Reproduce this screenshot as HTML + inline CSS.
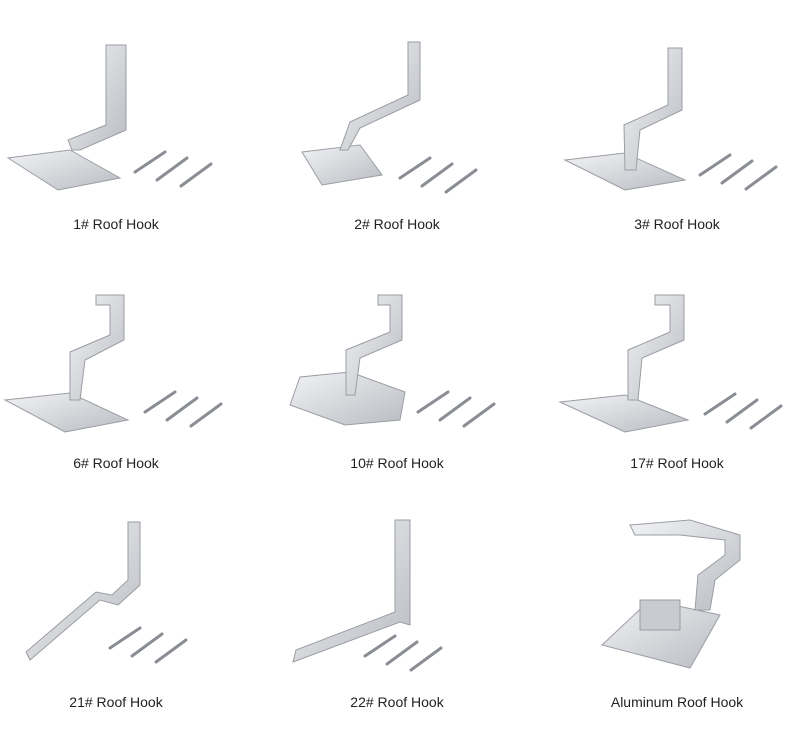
<!DOCTYPE html>
<html><head><meta charset="utf-8"><style>
body{margin:0;width:800px;height:750px;background:#fff;position:relative;overflow:hidden;font-family:"Liberation Sans",sans-serif}
.l{position:absolute;font-size:14px;color:#222;width:260px;text-align:center}
svg{position:absolute;left:0;top:0}
</style></head><body>
<svg width="800" height="750" viewBox="0 0 800 750">
<defs>
<linearGradient id="m" x1="0" y1="0" x2="1" y2="1"><stop offset="0" stop-color="#f2f3f5"/><stop offset="1" stop-color="#b9bcc2"/></linearGradient>
<g id="screws" stroke="#8a8d93" stroke-width="3" stroke-linecap="round"><line x1="0" y1="20" x2="30" y2="0"/><line x1="22" y1="28" x2="52" y2="6"/><line x1="46" y1="34" x2="76" y2="12"/></g>
</defs>
<g fill="url(#m)" stroke="#9a9da3" stroke-width="1">
<!-- row1 -->
<polygon points="8,158 70,150 120,178 58,190"/><polygon points="106,45 126,45 126,130 80,150 72,150 68,140 106,125"/>
<polygon points="302,152 360,145 382,175 322,185"/><polygon points="408,42 420,42 420,100 360,128 348,150 340,150 350,122 408,95"/>
<polygon points="565,160 625,153 685,180 625,190"/><polygon points="668,48 682,48 682,110 640,130 636,170 625,170 624,125 668,105"/>
<!-- row2 -->
<polygon points="5,400 70,393 128,420 65,432"/><polygon points="96,295 124,295 124,340 85,360 80,400 70,400 70,352 110,335 110,305 96,305"/>
<polygon points="290,405 300,377 350,372 405,392 400,420 345,425"/><polygon points="378,295 402,295 402,340 360,358 355,395 346,395 346,350 390,332 390,305 378,305"/>
<polygon points="560,402 625,395 688,420 625,432"/><polygon points="655,295 684,295 684,340 642,358 638,400 628,400 628,350 670,332 670,305 655,305"/>
<!-- row3 -->
<polygon points="30,660 100,600 118,605 140,585 140,522 128,522 128,580 112,595 96,592 26,652"/>
<polygon points="293,662 400,622 410,625 410,520 395,520 395,612 296,650"/>
<polygon points="602,645 650,600 720,615 690,668"/><polygon points="630,525 690,520 740,535 740,560 715,580 710,610 695,610 698,575 725,555 725,540 680,535 635,535"/>
<rect x="640" y="600" width="40" height="30" fill="#c8cbd0"/>
</g>
<use href="#screws" x="135" y="152"/><use href="#screws" x="400" y="158"/><use href="#screws" x="700" y="155"/>
<use href="#screws" x="145" y="392"/><use href="#screws" x="418" y="392"/><use href="#screws" x="705" y="394"/>
<use href="#screws" x="110" y="628"/><use href="#screws" x="365" y="636"/>
</svg>
<div class="l" style="left:-14px;top:216px">1# Roof Hook</div>
<div class="l" style="left:267px;top:216px">2# Roof Hook</div>
<div class="l" style="left:547px;top:216px">3# Roof Hook</div>
<div class="l" style="left:-14px;top:455px">6# Roof Hook</div>
<div class="l" style="left:267px;top:455px">10# Roof Hook</div>
<div class="l" style="left:547px;top:455px">17# Roof Hook</div>
<div class="l" style="left:-14px;top:694px">21# Roof Hook</div>
<div class="l" style="left:267px;top:694px">22# Roof Hook</div>
<div class="l" style="left:547px;top:694px">Aluminum Roof Hook</div>
</body></html>
